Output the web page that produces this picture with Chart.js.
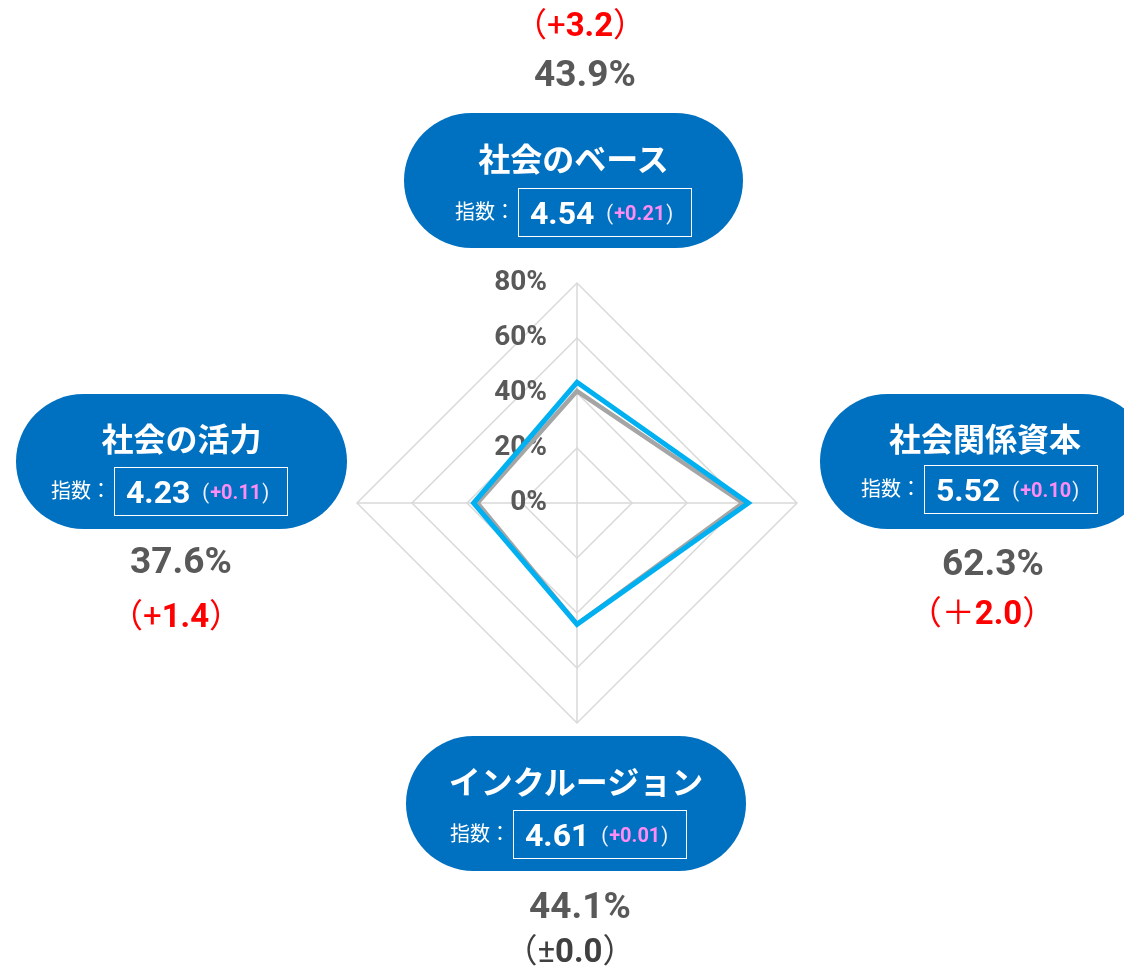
<!DOCTYPE html>
<html lang="ja">
<head>
<meta charset="utf-8">
<script src="https://cdn.jsdelivr.net/npm/chart.js@4/dist/chart.umd.min.js"></script>
<style>
body { margin: 0; background: #fff; font-family: Roboto, "Noto Sans CJK JP", sans-serif; }
#wrap { position: relative; width: 1124px; height: 968px; overflow: hidden; }
#chart { position: absolute; left: 0; top: 0; }
.pill { position: absolute; height: 135px; background: #0070c0; border-radius: 68px; color: #fff; }
.title { position: absolute; left: 0; right: 0; text-align: center; font-weight: bold; font-size: 32px; line-height: 32px; transform: translateY(-50%); white-space: nowrap; }
.idx { position: absolute; font-size: 20px; line-height: 20px; transform: translateY(-50%); white-space: nowrap; }
.box { position: absolute; width: 174px; height: 49px; border: 1.5px solid #fff; box-sizing: border-box; padding-left: 11px; white-space: nowrap; display: flex; align-items: center; }
.box .num { font-weight: bold; font-size: 32px; }
.box .chg { font-size: 20px; margin-left: 12px; color: #f0f0ff; }
.box .chg b { color: #ff8cf4; font-weight: bold; padding: 0 1px; }
.center { position: absolute; transform: translate(-50%, -50%); white-space: nowrap; }
.val { font-weight: bold; font-size: 37px; color: #595959; }
.diff { font-size: 33px; color: #ff0000; }
.diff b { font-weight: bold; }
.diff.zero { color: #404040; }
</style>
</head>
<body>
<div id="wrap">
  <canvas id="chart" width="1124" height="968"></canvas>
</div>
<script>
const categories = ['社会のベース', '社会関係資本', 'インクルージョン', '社会の活力'];
const current = [43.9, 62.3, 44.1, 37.6];
const previous = [40.7, 60.3, 44.1, 36.2];
const changeSign = ['+', '＋', '±', '+'];
const changeValue = ['3.2', '2.0', '0.0', '1.4'];
const indexValues = ['4.54', '5.52', '4.61', '4.23'];
const indexChanges = ['+0.21', '+0.10', '+0.01', '+0.11'];
const tickLabels = ['0%', '20%', '40%', '60%', '80%'];

// where the blue labels and the numbers sit
const pillPos = [
    { x: 404, y: 113, w: 339, idxX: 51, boxX: 114, titleY: 47, boxY: 75 },
    { x: 820, y: 394, w: 330, idxX: 41, boxX: 104, titleY: 46, boxY: 71 },
    { x: 406, y: 736, w: 340, idxX: 44, boxX: 107, titleY: 47, boxY: 74 },
    { x: 16, y: 394, w: 331, idxX: 35, boxX: 98, titleY: 46, boxY: 73 }
];
const valPos = [[585, 73], [993, 562], [580, 905], [181, 560]];
const diffPos = [[580, 22], [982, 610], [570, 948], [176, 613]];

const wrap = document.getElementById('wrap');
categories.forEach(function (name, i) {
    const p = pillPos[i];
    const pill = document.createElement('div');
    pill.className = 'pill';
    pill.style.left = p.x + 'px';
    pill.style.top = p.y + 'px';
    pill.style.width = p.w + 'px';
    pill.innerHTML =
        '<div class="title" style="top:' + p.titleY + 'px">' + name + '</div>' +
        '<div class="idx" style="left:' + p.idxX + 'px;top:' + (p.boxY + 24) + 'px">指数：</div>' +
        '<div class="box" style="left:' + p.boxX + 'px;top:' + p.boxY + 'px">' +
        '<span class="num">' + indexValues[i] + '</span>' +
        '<span class="chg">(<b>' + indexChanges[i] + '</b>)</span></div>';
    wrap.appendChild(pill);

    const val = document.createElement('div');
    val.className = 'center val';
    val.style.left = valPos[i][0] + 'px';
    val.style.top = valPos[i][1] + 'px';
    val.textContent = current[i].toFixed(1) + '%';
    wrap.appendChild(val);

    const diff = document.createElement('div');
    diff.className = 'center diff' + (changeSign[i] === '±' ? ' zero' : '');
    diff.style.left = diffPos[i][0] + 'px';
    diff.style.top = diffPos[i][1] + 'px';
    diff.innerHTML = '（' + changeSign[i] + '<b>' + changeValue[i] + '</b>）';
    wrap.appendChild(diff);
});

const tickText = {
    id: 'tickText',
    beforeDatasetsDraw(chart) {
        const r = chart.scales.r;
        const c = chart.ctx;
        c.save();
        c.font = 'bold 28px Roboto';
        c.fillStyle = '#595959';
        c.textAlign = 'right';
        c.textBaseline = 'middle';
        tickLabels.forEach(function (t) {
            const v = parseFloat(t);
            const y = r.yCenter - r.getDistanceFromCenterForValue(v);
            c.fillText(t, r.xCenter - 30, y);
        });
        c.restore();
    }
};

const ctx = document.getElementById('chart').getContext('2d');
const radar = new Chart(ctx, {
    type: 'radar',
    data: {
        labels: categories,
        datasets: [{
            label: '今回',
            data: current,
            borderColor: '#00b0f0',
            borderWidth: 5,
            borderJoinStyle: 'miter',
            pointRadius: 0,
            fill: false
        }, {
            label: '前回',
            data: previous,
            borderColor: '#a5a5a5',
            borderWidth: 4.5,
            borderJoinStyle: 'miter',
            pointRadius: 0,
            fill: false
        }]
    },
    options: {
        responsive: false,
        animation: false,
        layout: { padding: { left: 357, right: 327, top: 283, bottom: 245 } },
        elements: { line: { tension: 0 } },
        plugins: { legend: { display: false }, tooltip: { enabled: false } },
        scales: {
            r: {
                min: 0,
                max: 80,
                ticks: { stepSize: 20, display: false },
                pointLabels: { display: false },
                grid: { color: '#d9d9d9', lineWidth: 1.5 },
                angleLines: { color: '#d9d9d9', lineWidth: 1.5 }
            }
        }
    },
    plugins: [tickText]
});
</script>
</body>
</html>
